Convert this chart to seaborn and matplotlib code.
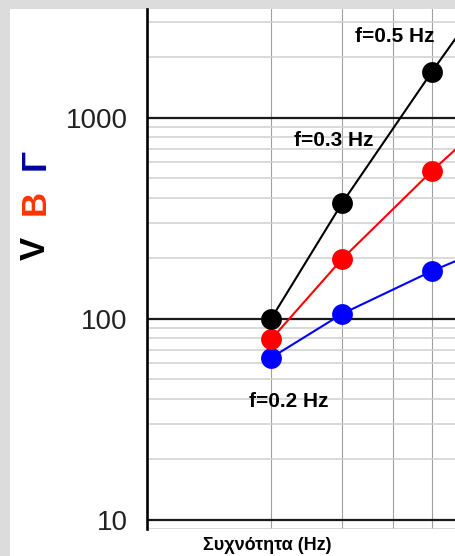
import numpy as np
import pandas as pd
import matplotlib
matplotlib.use("Agg")
import matplotlib.pyplot as plt
from matplotlib.patches import Rectangle
from matplotlib.ticker import LogLocator, NullFormatter, FixedLocator
import seaborn as sns

# data (last point lies just beyond the visible right edge)
freq = [0.2, 0.3, 0.5, 0.7]
amp_v = [100, 378, 1700, 4400]
amp_b = [79, 199, 545, 1010]
amp_g = [64, 106, 173, 230]
components = ["V", "Β", "Γ"]
colors = ["#000000", "#ff0000", "#0000ff"]
label_colors = ["#000000", "#ff3300", "#00009f"]
notes = ["f=0.2 Hz", "f=0.3 Hz", "f=0.5 Hz"]

df = pd.DataFrame({
    "freq": freq * 3,
    "amp": amp_v + amp_b + amp_g,
    "comp": sum([[c] * len(freq) for c in components], []),
})

sns.set_style("white")
plt.rcParams["font.family"] = ["Liberation Sans", "DejaVu Sans"]
plt.rcParams["text.color"] = "black"

fig = plt.figure(figsize=(4.56, 5.56), dpi=100)
fig.patch.set_facecolor("#dcdcdc")
fig.patches.append(Rectangle((10 / 456, 0), 1, 1 - 9 / 556, transform=fig.transFigure,
                             facecolor="white", edgecolor="none", zorder=-5))
ax = fig.add_axes([147 / 456, 27 / 556, 1 - 147 / 456, 520 / 556])
ax.set_zorder(2)
ax.set_facecolor("white")

sns.lineplot(data=df, x="freq", y="amp", hue="comp", hue_order=components[::-1],
             palette=dict(zip(components, colors)), marker="o", markersize=15,
             markeredgewidth=0, linewidth=1.5, legend=False, ax=ax, zorder=5)

ax.set_xscale("log")
ax.set_yscale("log")
ax.set_xlim(0.0987, 0.573)
ax.set_ylim(9.0, 3480)

# grid
ax.xaxis.set_major_locator(FixedLocator([0.2, 0.3, 0.4, 0.5]))
ax.xaxis.set_minor_locator(FixedLocator([]))
ax.xaxis.set_major_formatter(NullFormatter())
ax.tick_params(axis="x", length=0)
ax.yaxis.set_major_locator(FixedLocator([10, 100, 1000]))
ax.yaxis.set_minor_locator(LogLocator(base=10, subs=np.arange(2, 10)))
ax.yaxis.set_minor_formatter(NullFormatter())
ax.set_yticklabels(["10", "100", "1000"])
ax.grid(axis="x", which="major", color="#a0a0a0", linewidth=0.8, zorder=1)
ax.grid(axis="y", which="major", color="#1a1a1a", linewidth=1.6, zorder=2)
ax.grid(axis="y", which="minor", color="#cfcfcf", linewidth=1.1, zorder=1)
ax.set_axisbelow(True)
ax.tick_params(axis="y", which="major", direction="in", length=17, width=1.6,
               labelsize=20, labelcolor="#222222", pad=14, color="black")
ax.tick_params(axis="y", which="minor", direction="in", length=9, width=1.6, color="black")

for s in ["top", "right", "bottom"]:
    ax.spines[s].set_visible(False)
ax.spines["left"].set_color("black")
ax.spines["left"].set_linewidth(1.9)

ax.set_xlabel("")
ax.set_ylabel("")

# frequency notes
ax.text(0.221, 38.6, notes[0], fontsize=15, fontweight="bold", ha="center", va="center", zorder=6)
ax.text(0.286, 769, notes[1], fontsize=15, fontweight="bold", ha="center", va="center", zorder=6)
ax.text(0.405, 2530, notes[2], fontsize=15, fontweight="bold", ha="center", va="center", zorder=6)

# coloured y label letters
for letter, c, ypix in zip(components, label_colors, [248, 202, 160]):
    fig.text(35 / 456, 1 - ypix / 556, letter, color=c, fontsize=25, fontweight="bold",
             rotation=90, ha="center", va="center")

fig.text(267 / 456, 1 - 545 / 556, "Συχνότητα (Hz)", fontsize=13, fontweight="bold",
         ha="center", va="center")

fig.savefig("out.png", dpi=100, facecolor=fig.get_facecolor())
